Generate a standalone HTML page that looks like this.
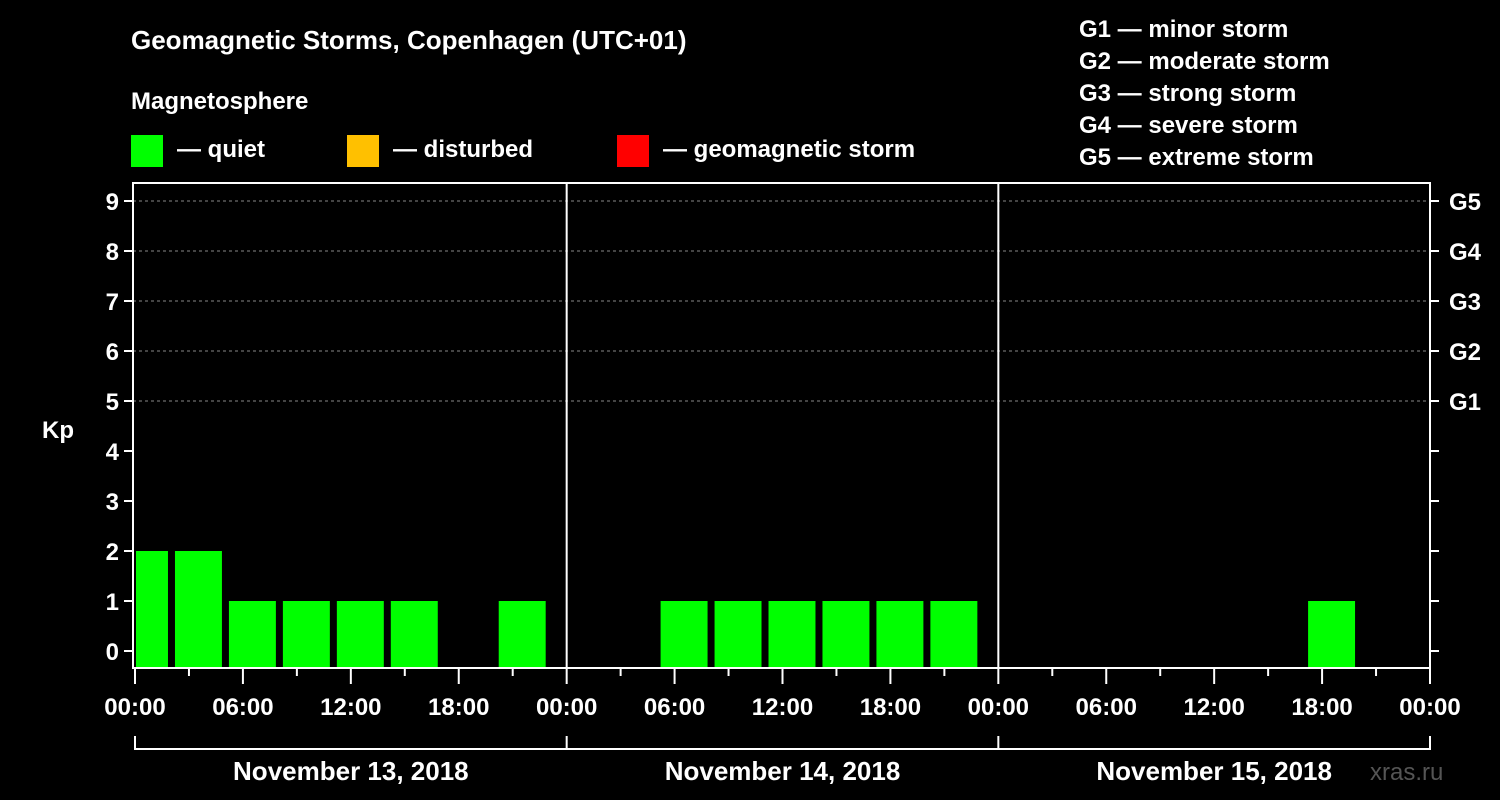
<!DOCTYPE html>
<html><head><meta charset="utf-8"><style>
body{margin:0;background:#000;}
svg{display:block;font-family:"Liberation Sans",Arial,sans-serif;font-weight:bold;}
</style></head><body>
<svg id="c" width="1500" height="800" viewBox="0 0 1500 800">
<rect width="1500" height="800" fill="#000"/>
<text x="131" y="49" font-size="26" fill="#fff">Geomagnetic Storms, Copenhagen (UTC+01)</text>
<text x="131" y="109" font-size="24" fill="#fff">Magnetosphere</text>
<g><rect x="131" y="135" width="32" height="32" fill="#00ff00"/><text x="177" y="157" font-size="24" fill="#fff">— quiet</text></g>
<g><rect x="347" y="135" width="32" height="32" fill="#ffc000"/><text x="393" y="157" font-size="24" fill="#fff">— disturbed</text></g>
<g><rect x="617" y="135" width="32" height="32" fill="#ff0000"/><text x="663" y="157" font-size="24" fill="#fff">— geomagnetic storm</text></g>
<g font-size="24" fill="#fff">
<text x="1079" y="37">G1 — minor storm</text>
<text x="1079" y="69">G2 — moderate storm</text>
<text x="1079" y="101">G3 — strong storm</text>
<text x="1079" y="133">G4 — severe storm</text>
<text x="1079" y="165">G5 — extreme storm</text>
</g>
<text x="42" y="438" font-size="24" fill="#fff">Kp</text>
<text x="1370" y="780" font-size="24" fill="#555" font-weight="normal">xras.ru</text>
<g id="plot"></g>
</svg>
<script>
const dayLabels = ["November 13, 2018","November 14, 2018","November 15, 2018"];
const kpTicks = [0,1,2,3,4,5,6,7,8,9];
const gLabels = ["G1","G2","G3","G4","G5"];
const timeLabels = ["00:00","06:00","12:00","18:00"];
// 3-hour slots starting at -1h (UTC+01 offset), null = no data
const slotStartHours = [-1,2,5,8,11,14,17,20,23,26,29,32,35,38,41,44,47,50,53,56,59,62,65,68,71];
const kpValues = [2,2,1,1,1,1,null,1,null,null,1,1,1,1,1,1,null,null,null,null,null,null,1,null,null];

const NS="http://www.w3.org/2000/svg";
const g=document.getElementById('plot');
const L=133,R=1430,T=183,B=668,X0=135,PXH=(1430-135)/72;
const xs=h=>X0+h*PXH;
const ys=k=>651-k*50;
function mk(t,a,p){const e=document.createElementNS(NS,t);for(const k in a)e.setAttribute(k,a[k]);(p||g).appendChild(e);return e;}
// grid
[5,6,7,8,9].forEach(k=>{
 const e=mk('line',{x1:L,x2:R,y1:ys(k),y2:ys(k),stroke:'#888','stroke-dasharray':'3,3','stroke-width':1});
 
 
});
// bars
kpValues.forEach((v,i)=>{
 if(v===null)return;
 let a=xs(slotStartHours[i]),b=xs(slotStartHours[i]+3);
 let x1=Math.max(a,X0)+(a<X0?1:4),x2=Math.min(b,R)-3;
 const e=mk('rect',{x:x1,y:ys(v),width:x2-x1,height:B-ys(v),fill:'#00ff00'});
 
 
});
// day dividers
[1,2].forEach(d=>{
 const e=mk('line',{x1:xs(d*24),x2:xs(d*24),y1:T,y2:B,stroke:'#fff','stroke-width':2});
 
 
});
// frame
const fr=mk('rect',{x:L,y:T,width:R-L,height:B-T,fill:'none',stroke:'#fff','stroke-width':2});


// y ticks
kpTicks.forEach(k=>{
 mk('line',{x1:L-9,x2:L,y1:ys(k),y2:ys(k),stroke:'#fff','stroke-width':2});
 mk('line',{x1:R,x2:R+9,y1:ys(k),y2:ys(k),stroke:'#fff','stroke-width':2});
 const t=mk('text',{x:L-14,y:ys(k)+9,'font-size':24,fill:'#fff','text-anchor':'end'});
 t.textContent=k;
 
 
});
gLabels.forEach((s,i)=>{
 const t=mk('text',{x:R+19,y:ys(i+5)+9,'font-size':24,fill:'#fff'});
 t.textContent=s;
 
 
});
// x ticks
for(let h=0;h<=72;h+=3){
 const major=h%6===0;
 mk('line',{x1:xs(h),x2:xs(h),y1:B,y2:B+(major?16:8),stroke:'#fff','stroke-width':2});
 if(major){
  const t=mk('text',{x:xs(h),y:B+47,'font-size':24,fill:'#fff','text-anchor':'middle'});
  t.textContent=timeLabels[(h/6)%4];
  
  
 }
}
// day bracket
mk('line',{x1:xs(0),x2:xs(72),y1:749,y2:749,stroke:'#fff','stroke-width':2});
for(let d=0;d<=3;d++) mk('line',{x1:xs(d*24),x2:xs(d*24),y1:736,y2:750,stroke:'#fff','stroke-width':2});
dayLabels.forEach((s,d)=>{
 const t=mk('text',{x:xs(d*24+12),y:780,'font-size':26,fill:'#fff','text-anchor':'middle'});
 t.textContent=s;
 
 
});
</script>
</body></html>
